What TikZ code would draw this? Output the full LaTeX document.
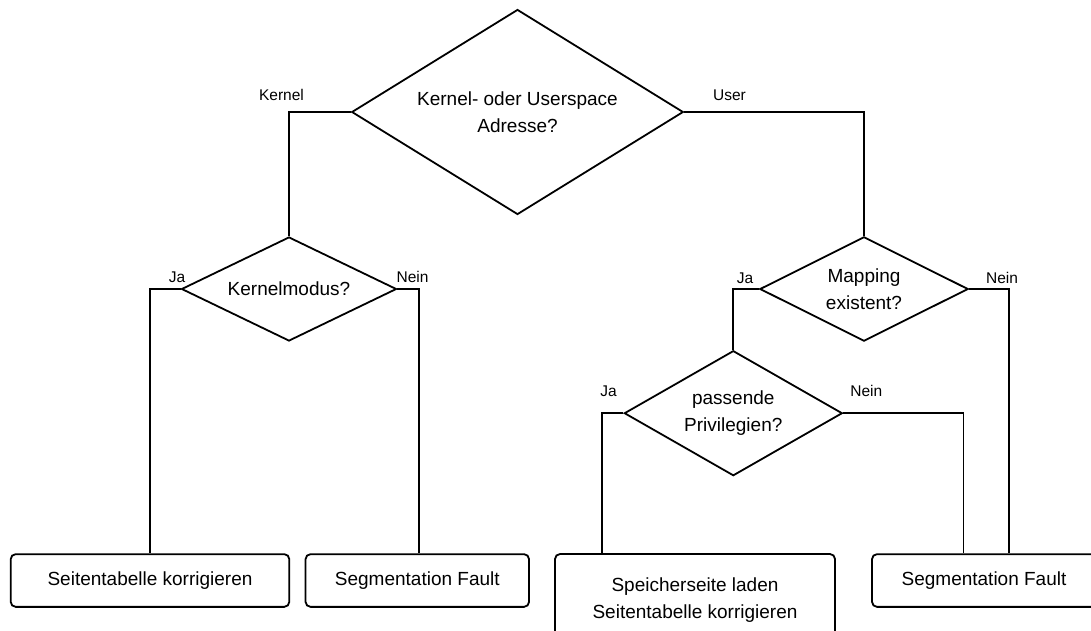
\documentclass[tikz,border=0pt]{standalone}
\usepackage{fontspec}
\setmainfont{Liberation Sans}
\usetikzlibrary{shapes.geometric}
\begin{document}
\begin{tikzpicture}[x=1pt,y=-1pt,
  dec/.style={draw, diamond, line width=1.8pt, inner sep=0pt, align=center,
    font=\fontsize{19}{27}\selectfont},
  box/.style={draw, rectangle, rounded corners=5pt, line width=1.8pt, inner sep=0pt,
    align=center, font=\fontsize{19}{27}\selectfont},
  lbl/.style={inner sep=0pt, anchor=base, font=\fontsize{15.5}{18}\selectfont},
  link/.style={draw, line width=1.8pt}
]
\useasboundingbox (0,0) rectangle (1091,630);

% decisions
\node[dec, aspect=1.62, minimum width=331.6pt, minimum height=205pt] (q1) at (517.5,112)
  {Kernel- oder Userspace\\Adresse?};
\node[dec, aspect=2.07, minimum width=215pt, minimum height=104pt] (q2) at (289,289)
  {Kernelmodus?};
\node[dec, aspect=2.0, minimum width=208.3pt, minimum height=104.3pt] (q3) at (864,289)
  {Mapping\\existent?};
\node[dec, aspect=1.74, minimum width=218pt, minimum height=125pt] (q4) at (733.3,413.2)
  {passende\\Privilegien?};

% outcomes
\node[box, minimum width=278.6pt, minimum height=52.7pt] (b1) at (150,580.5)
  {Seitentabelle korrigieren};
\node[box, minimum width=223.5pt, minimum height=52.7pt] (b2) at (417.3,580.5)
  {Segmentation Fault};
\node[box, minimum width=280pt, minimum height=92pt] (b3) at (695,600)
  {Speicherseite laden\\Seitentabelle korrigieren};
\node[box, minimum width=224pt, minimum height=52.7pt] (b4) at (984,580.5)
  {Segmentation Fault};

% connectors
\draw[link] (q1.west) -| (q2.north);
\draw[link] (q1.east) -| (q3.north);
\draw[link] (q2.west) -| (b1.north);
\draw[link] (q2.east) -| ([xshift=2pt]b2.north);
\draw[link] (q3.west) -| (q4.north);
\draw[link] (q3.east) -| ([xshift=25.3pt]b4.north);
\draw[link] (q4.west) -| ([xshift=-92.7pt]b3.north);
\draw[link] (q4.east) -| ([xshift=-20.5pt]b4.north);

% labels
\node[lbl] (lk) at (281.5,100) {Kernel};
\node[lbl] (lu) at (729.5,100) {User};
\node[lbl] (l1) at (177,282.7) {Ja};
\node[lbl] (l2) at (412.5,282.7) {Nein};
\node[lbl] (l3) at (745,283) {Ja};
\node[lbl] (l4) at (1002,283) {Nein};
\node[lbl] (l5) at (608.5,396.7) {Ja};
\node[lbl] (l6) at (866.3,396.7) {Nein};
\end{tikzpicture}
\end{document}
